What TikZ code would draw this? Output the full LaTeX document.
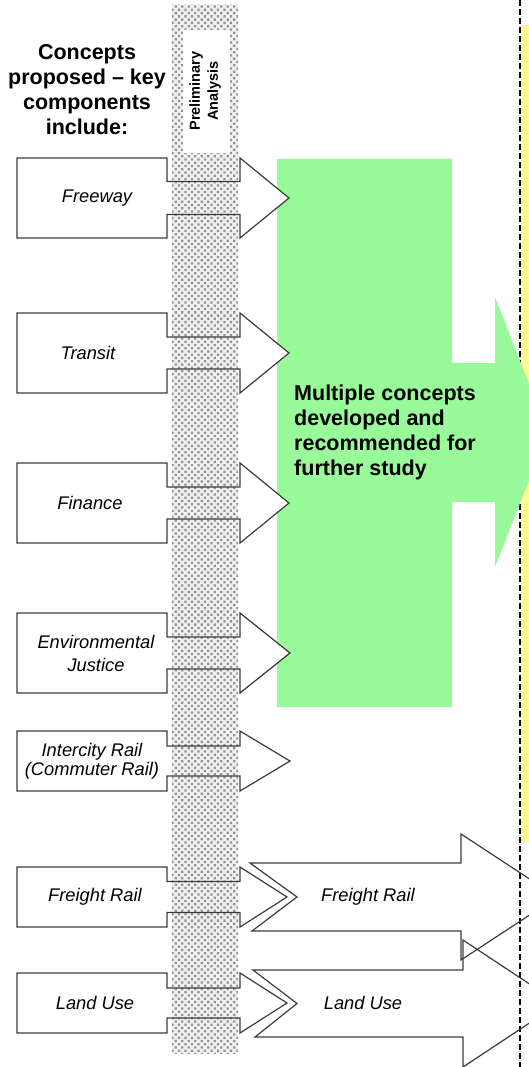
\documentclass[tikz,border=0pt]{standalone}
\usepackage{fontspec}
\setmainfont{Liberation Sans}
\usetikzlibrary{patterns.meta}
\definecolor{lgreen}{RGB}{153,250,153}
\definecolor{lyellow}{RGB}{255,250,150}
\definecolor{edge}{RGB}{60,60,60}
\tikzset{
  arr/.style={draw=edge, line width=1.2pt, line join=miter},
  lbl/.style={inner sep=0pt, align=center, font=\fontsize{18.3}{21}\selectfont\itshape},
  head/.style={inner sep=0pt, align=center, font=\fontsize{21.5}{25}\selectfont\bfseries},
}
% [#1 extra label opts], #2 name, #3 centre y, #4 box half height, #5 shaft half height, #6 label x, #7 label, #8 tip x
\newcommand{\inarrow}[8][]{%
  \fill[white] (17,#3-#4) rectangle (167,#3+#4);
  \fill[white] (240,#3-#4) -- (#8,#3) -- (240,#3+#4) -- cycle;
  \draw[arr] (17,#3-#4) -- (167,#3-#4) -- (167,#3-#5) -- (240,#3-#5) -- (240,#3-#4)
     -- (#8,#3) -- (240,#3+#4) -- (240,#3+#5) -- (167,#3+#5) -- (167,#3+#4)
     -- (17,#3+#4) -- cycle;
  \node[lbl,#1] (#2) at (#6,#3) {#7};}
\begin{document}
\begin{tikzpicture}[x=1pt,y=-1pt]
\clip (0,0) rectangle (529,1067);
\fill[white] (0,0) rectangle (529,1067);
% yellow strip and dashed boundary
\fill[lyellow] (521,25) rectangle (529,842);
\draw[black, line width=1.1pt, dash pattern=on 6pt off 3pt] (520,0) -- (520,1067);
% green arrow
\fill[lgreen] (277,159) -- (452,159) -- (452,363) -- (495,363) -- (495,297)
   -- (548,432) -- (495,567) -- (495,502) -- (452,502) -- (452,707) -- (277,707) -- cycle;
\node[head, anchor=west, align=left] (multi) at (294,432)
  {Multiple concepts\\developed and\\recommended for\\further study};
% preliminary analysis band
\fill[gray!12] (172,5) rectangle (238,1053);
\fill[pattern={Dots[distance=4.6pt, radius=1.6pt, angle=45]}, pattern color=gray!85] (172,5) rectangle (238,1053);
\fill[white] (183,30) rectangle (230,153);
\node[rotate=90, inner sep=0pt, align=center, font=\fontsize{14.5}{18}\selectfont\bfseries] (prelim) at (205,91) {Preliminary\\Analysis};
% heading
\node[head] (concepts) at (87,90) {Concepts\\proposed -- key\\components\\include:};
% input arrows
\inarrow{freeway}{198}{40}{16.5}{97}{Freeway}{289}
\inarrow{transit}{353}{40}{16}{88}{Transit}{289}
\inarrow{finance}{503}{40}{16}{90}{Finance}{289}
\inarrow[font=\fontsize{18.3}{23}\selectfont\itshape]{ej}{653}{40}{16}{96}{Environmental\\Justice}{290}
\inarrow[font=\fontsize{18.3}{19}\selectfont\itshape]{intercity}{761}{30}{15}{92}{Intercity Rail\\(Commuter Rail)}{290}
\inarrow{freightin}{897}{30}{15.5}{95}{Freight Rail}{287}
\inarrow{landin}{1003}{30}{15}{95}{Land Use}{287}
% big output arrows
\draw[arr] (250,863) -- (461,863) -- (461,834) -- (557,897) -- (461,960) -- (461,931)
   -- (252,931) -- (297,897) -- cycle;
\node[lbl] (freightout) at (368,897) {Freight Rail};
\draw[arr] (253,970) -- (463,970) -- (463,940) -- (559,1003.5) -- (463,1067) -- (463,1037)
   -- (255,1037) -- (297,1003.5) -- cycle;
\node[lbl] (landout) at (363,1003) {Land Use};
\end{tikzpicture}
\end{document}
